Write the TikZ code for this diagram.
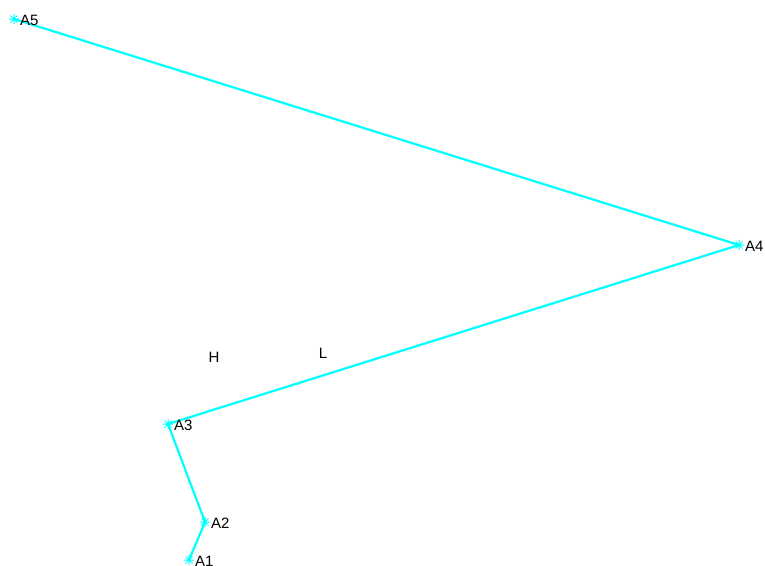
\documentclass[tikz,border=0pt]{standalone}
\usepackage{fontspec}
\setmainfont{Liberation Sans}
\definecolor{cyanline}{RGB}{0,255,255}
\begin{document}
\begin{tikzpicture}[x=1pt,y=-1pt,
  lbl/.style={anchor=west,inner sep=0pt,font=\fontsize{15}{15}\selectfont},
  seg/.style={draw=cyanline,line width=2.2pt},
  star/.style={inner sep=0pt,minimum size=10pt},
  spoke/.style={draw=cyanline,line width=1pt}]
\useasboundingbox (0,0) rectangle (765,565);
\coordinate (A1) at (189,560);
\coordinate (A2) at (205,522);
\coordinate (A3) at (168,424);
\coordinate (A4) at (739,245);
\coordinate (A5) at (14,19);
\draw[seg] (A1) -- (A2) -- (A3) -- (A4) -- (A5);
\foreach \p in {A1,A2,A3,A4,A5}{
  \node[star] (m\p) at (\p) {};
  \draw[spoke] (m\p.north) -- (m\p.south) (m\p.east) -- (m\p.west)
    ([shift={(-3.5,-3.5)}]\p) -- ([shift={(3.5,3.5)}]\p)
    ([shift={(-3.5,3.5)}]\p) -- ([shift={(3.5,-3.5)}]\p);
  \node[lbl] (t\p) at ([xshift=6pt,yshift=-1pt]\p) {\p};
}
\node[font=\fontsize{15}{15}\selectfont,inner sep=0pt] (H) at (214,357) {H};
\node[font=\fontsize{15}{15}\selectfont,inner sep=0pt] (L) at (323,353) {L};
\end{tikzpicture}
\end{document}
